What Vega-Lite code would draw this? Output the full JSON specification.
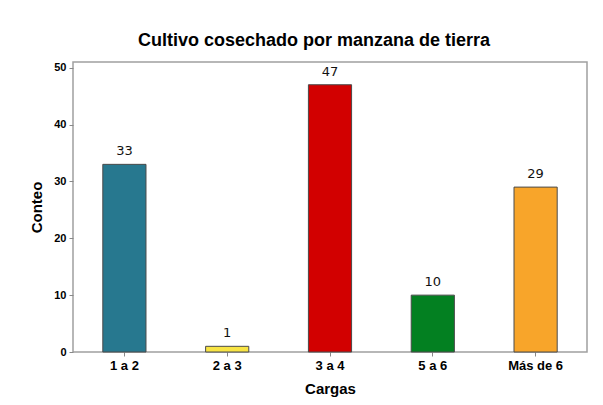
{
  "$schema": "https://vega.github.io/schema/vega-lite/v6.json",
  "autosize": "none",
  "width": 514,
  "height": 290,
  "padding": {"left": 73, "top": 62, "right": 16, "bottom": 53},
  "background": "white",
  "config": {
    "view": {"stroke": "#a0a0a0", "strokeWidth": 1.5},
    "font": "Liberation Sans"
  },
  "title": {
    "text": "Cultivo cosechado por manzana de tierra",
    "fontSize": 18,
    "font": "Liberation Sans",
    "fontWeight": "bold",
    "color": "#000000",
    "anchor": "middle",
    "dx": -16,
    "offset": 12
  },
  "data": {
    "values": [
      {"Cargas": "1 a 2", "Conteo": 33, "color": "#27788F"},
      {"Cargas": "2 a 3", "Conteo": 1, "color": "#F8E444"},
      {"Cargas": "3 a 4", "Conteo": 47, "color": "#D20000"},
      {"Cargas": "5 a 6", "Conteo": 10, "color": "#038021"},
      {"Cargas": "Más de 6", "Conteo": 29, "color": "#F8A52A"}
    ]
  },
  "encoding": {
    "x": {
      "field": "Cargas",
      "type": "nominal",
      "sort": null,
      "scale": {"paddingInner": 0.58, "paddingOuter": 0.29},
      "axis": {
        "title": "Cargas",
        "titleFontSize": 15,
        "titleFontWeight": "bold",
        "titleColor": "#000",
        "titlePadding": 9,
        "labelAngle": 0,
        "labelFontSize": 13,
        "labelFontWeight": "bold",
        "labelColor": "#000",
        "labelPadding": 3,
        "tickSize": 4,
        "tickColor": "#888",
        "domain": false
      }
    },
    "y": {
      "field": "Conteo",
      "type": "quantitative",
      "scale": {"domain": [0, 51], "nice": false},
      "axis": {
        "title": "Conteo",
        "titleFontSize": 15,
        "titleFontWeight": "bold",
        "titleColor": "#000",
        "titlePadding": 9,
        "values": [0, 10, 20, 30, 40, 50],
        "labelFontSize": 11,
        "labelFontWeight": "bold",
        "labelColor": "#000",
        "labelPadding": 3,
        "tickSize": 4,
        "tickColor": "#888",
        "grid": false,
        "domain": false
      }
    }
  },
  "layer": [
    {
      "mark": {"type": "bar", "stroke": "#4a4a4a", "strokeWidth": 1},
      "encoding": {
        "color": {"field": "color", "type": "nominal", "scale": null}
      }
    },
    {
      "mark": {"type": "text", "baseline": "alphabetic", "dy": -9, "fontSize": 13, "font": "DejaVu Sans", "color": "#111"},
      "encoding": {"text": {"field": "Conteo", "type": "quantitative"}}
    }
  ]
}
